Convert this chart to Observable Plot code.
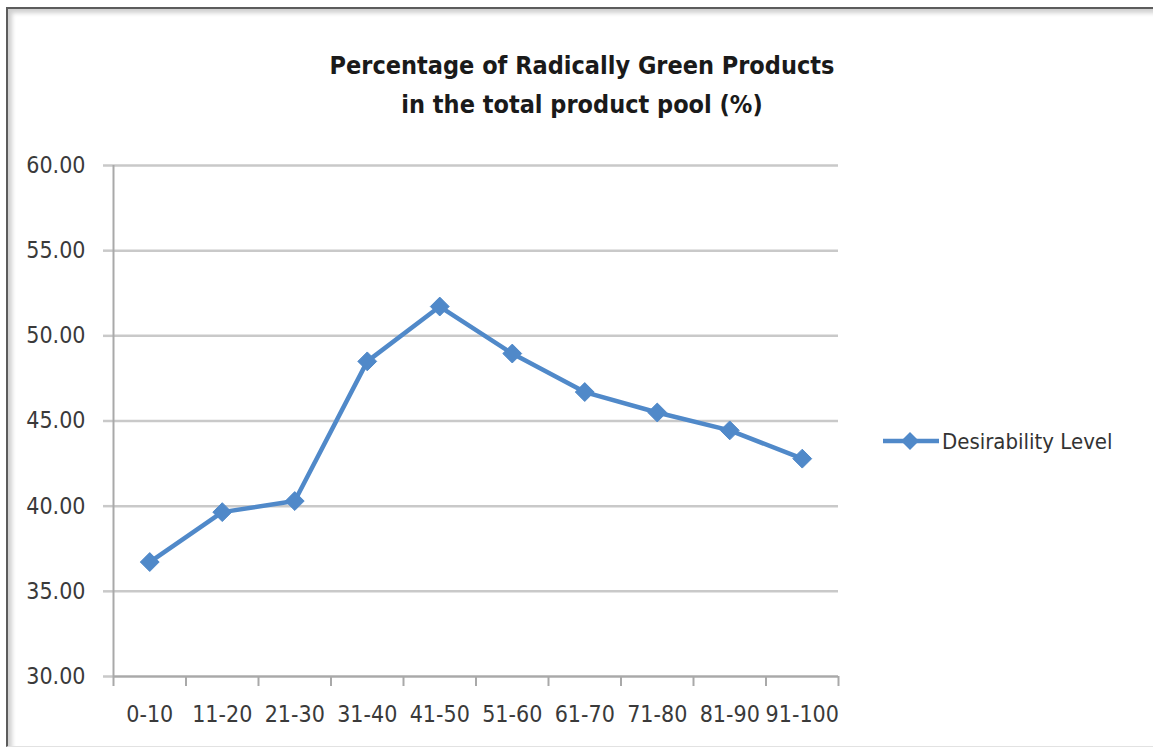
<!DOCTYPE html>
<html>
<head>
<meta charset="utf-8">
<script src="https://cdn.jsdelivr.net/npm/d3@7"></script>
<script src="https://cdn.jsdelivr.net/npm/@observablehq/plot@0.6"></script>
<style>
  html, body { margin: 0; padding: 0; background: #fff; }
  #wrap { position: relative; width: 1153px; height: 747px; overflow: hidden; font-family: "DejaVu Sans Condensed", "DejaVu Sans", sans-serif; }
  #frame { position: absolute; left: 6px; top: 7px; width: 1160px; height: 737px; border-left: 2px solid #5c5c5c; border-top: 2px solid #5c5c5c; border-bottom: 1px solid #e2e2e2; box-shadow: inset 5px 5px 4px -1px #d0d0d0; }
  #title { position: absolute; left: 0; top: 46px; width: 1164px; text-align: center; font-weight: bold; font-size: 25px; line-height: 39px; color: #1a1a1a; }
  #legend { position: absolute; left: 883px; top: 427px; display: flex; align-items: center; font-size: 22px; color: #333; }
  #chart { position: absolute; left: 0; top: 0; }
</style>
</head>
<body>
<div id="wrap">
  <div id="frame"></div>
  <div id="chart"></div>
  <div id="title"></div>
  <div id="legend"></div>
</div>
<script>
const titleLines = ["Percentage of Radically Green Products", "in the total product pool (%)"];
const seriesName = "Desirability Level";
const categories = ["0-10", "11-20", "21-30", "31-40", "41-50", "51-60", "61-70", "71-80", "81-90", "91-100"];
const values = [36.72, 39.65, 40.3, 48.5, 51.72, 48.96, 46.7, 45.5, 44.45, 42.79];
const yTicks = [30, 35, 40, 45, 50, 55, 60];

const color = "#5089c9";
const gridColor = "#c9c9c9";
const axisColor = "#a9a9a9";

const data = categories.map((c, i) => ({cat: c, pos: i + 0.5, value: values[i]}));
const boundaries = d3.range(categories.length + 1);
const centers = categories.map((c, i) => i + 0.5);

const chart = Plot.plot({
  width: 1153,
  height: 747,
  marginLeft: 113,
  marginRight: 315,
  marginTop: 165,
  marginBottom: 71,
  style: {fontFamily: "'DejaVu Sans Condensed', 'DejaVu Sans', sans-serif", background: "transparent", color: "#333"},
  x: {domain: [0, categories.length]},
  y: {domain: [30, 60]},
  marks: [
    Plot.ruleY(yTicks, {stroke: gridColor, strokeWidth: 2.5}),
    Plot.axisY({ticks: yTicks, tickSize: 10, tickPadding: 18, tickFormat: d3.format(".2f"), stroke: gridColor, strokeWidth: 2.5, strokeOpacity: 1, fontSize: 23, fill: "#3a3a3a", label: null}),
    Plot.ruleX([0], {stroke: axisColor, strokeWidth: 2}),
    Plot.ruleY([30], {stroke: axisColor, strokeWidth: 2}),
    Plot.axisX({ticks: boundaries, tickSize: 10, tickFormat: () => "", stroke: axisColor, strokeWidth: 2, strokeOpacity: 1, label: null}),
    Plot.axisX({ticks: centers, tickSize: 0, tickPadding: 29, tickFormat: d => categories[Math.floor(d)], fontSize: 23, fill: "#3a3a3a", label: null}),
    Plot.line(data, {x: "pos", y: "value", stroke: color, strokeWidth: 4.5, strokeLinejoin: "round"}),
    Plot.dot(data, {x: "pos", y: "value", symbol: "diamond2", r: 8.5, fill: color, stroke: color, strokeWidth: 1})
  ]
});
document.getElementById("chart").appendChild(chart);

document.getElementById("title").innerHTML = titleLines.join("<br>");
document.getElementById("legend").innerHTML =
  `<svg width="57" height="28" style="margin-right:2px"><line x1="0" y1="14" x2="56" y2="14" stroke="${color}" stroke-width="4.5"/><path d="M27,5 L36,14 L27,23 L18,14 Z" fill="${color}"/></svg><span>${seriesName}</span>`;
</script>
</body>
</html>
